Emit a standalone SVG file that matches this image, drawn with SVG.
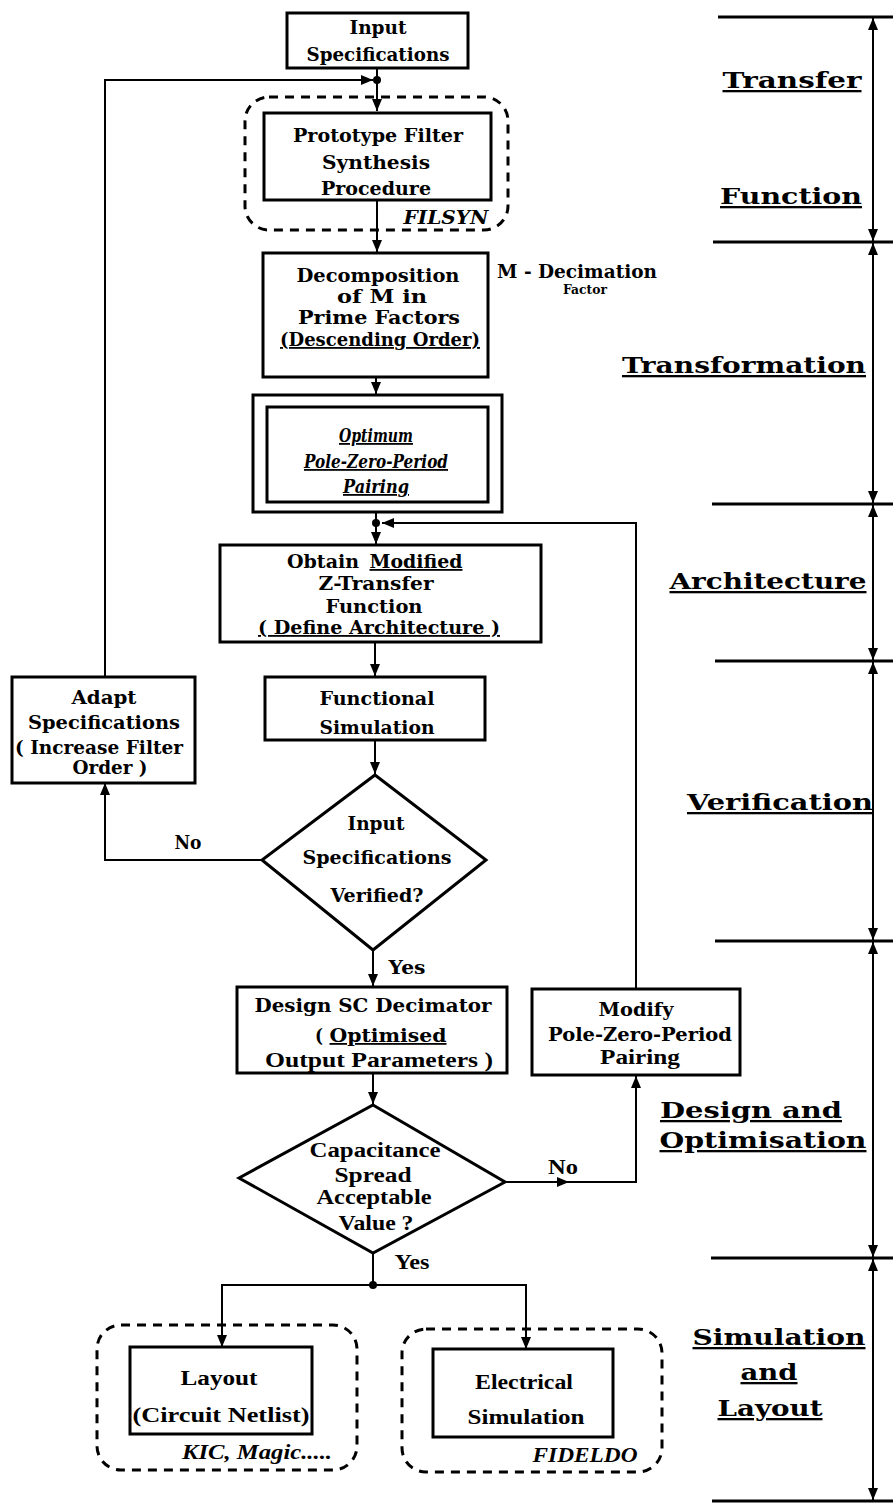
<svg xmlns="http://www.w3.org/2000/svg" width="893" height="1503" viewBox="0 0 893 1503">
<style>
.b{fill:none;stroke:#000;stroke-width:3}
.c{fill:none;stroke:#000;stroke-width:2}
.d{fill:none;stroke:#000;stroke-width:3;stroke-dasharray:9 7}
.t{font-family:"DejaVu Serif","Liberation Serif",serif;font-weight:bold;font-size:18px;text-anchor:middle;fill:#000}
.n{font-family:"Liberation Serif","DejaVu Serif",serif;font-size:20px}
.i{font-style:italic}
.u{text-decoration:underline}
.r{font-size:23px}
.sm{font-size:13px}
</style>
<defs>
<marker id="a" markerUnits="userSpaceOnUse" markerWidth="12" markerHeight="10" refX="12" refY="5" orient="auto-start-reverse"><path d="M0,0 L12,5 L0,10 z" fill="#000"/></marker>
</defs>
<rect width="893" height="1503" fill="#fff"/>

<g id="connectors">
<path class="c" d="M377,68 V111" marker-end="url(#a)"/>
<path class="c" d="M105,677 V80 H373" marker-end="url(#a)"/>
<path class="c" d="M377,200 V252" marker-end="url(#a)"/>
<path class="c" d="M376,377 V394" marker-end="url(#a)"/>
<path class="c" d="M376,512 V544" marker-end="url(#a)"/>
<path class="c" d="M636,989 V523 H382" marker-end="url(#a)"/>
<path class="c" d="M375,642 V676" marker-end="url(#a)"/>
<path class="c" d="M375,740 V774" marker-end="url(#a)"/>
<path class="c" d="M262,860 H105 V783" marker-end="url(#a)"/>
<path class="c" d="M373,950 V986" marker-end="url(#a)"/>
<path class="c" d="M373,1073 V1104" marker-end="url(#a)"/>
<path class="c" d="M505,1182 H569" marker-end="url(#a)"/>
<path class="c" d="M567,1182 H636 V1076" marker-end="url(#a)"/>
<path class="c" d="M373,1253 V1285"/>
<path class="c" d="M222,1347 V1285 H526 V1349" marker-start="url(#a)" marker-end="url(#a)"/>
<circle cx="377" cy="80" r="4"/>
<circle cx="376" cy="523" r="4"/>
<circle cx="373" cy="1285" r="4"/>
</g>

<g id="scale">
<path class="b" d="M718,17 H893 M713,242 H893 M712,504 H893 M715,661 H893 M715,941 H893 M711,1258 H893 M712,1501 H893"/>
<path class="c" d="M873,18 V241" marker-start="url(#a)" marker-end="url(#a)"/>
<path class="c" d="M873,243 V503" marker-start="url(#a)" marker-end="url(#a)"/>
<path class="c" d="M873,505 V660" marker-start="url(#a)" marker-end="url(#a)"/>
<path class="c" d="M873,662 V940" marker-start="url(#a)" marker-end="url(#a)"/>
<path class="c" d="M873,942 V1257" marker-start="url(#a)" marker-end="url(#a)"/>
<path class="c" d="M873,1259 V1500" marker-start="url(#a)" marker-end="url(#a)"/>
<text class="t r u" x="792" y="88" textLength="139" lengthAdjust="spacingAndGlyphs">Transfer</text>
<text class="t r u" x="791" y="204" textLength="142" lengthAdjust="spacingAndGlyphs">Function</text>
<text class="t r u" x="744" y="373" textLength="244" lengthAdjust="spacingAndGlyphs">Transformation</text>
<text class="t r u" x="768" y="589" textLength="197" lengthAdjust="spacingAndGlyphs">Architecture</text>
<text class="t r u" x="780" y="810" textLength="186" lengthAdjust="spacingAndGlyphs">Verification</text>
<text class="t r u" x="751" y="1118" textLength="182" lengthAdjust="spacingAndGlyphs">Design  and</text>
<text class="t r u" x="763" y="1148" textLength="207" lengthAdjust="spacingAndGlyphs">Optimisation</text>
<text class="t r u" x="779" y="1345" textLength="173" lengthAdjust="spacingAndGlyphs">Simulation</text>
<text class="t r u" x="769" y="1380" textLength="57" lengthAdjust="spacingAndGlyphs">and</text>
<text class="t r u" x="770" y="1416" textLength="105" lengthAdjust="spacingAndGlyphs">Layout</text>
</g>

<g id="input-spec">
<rect class="b" x="287" y="13" width="181" height="55"/>
<text class="t" x="378" y="34" textLength="57" lengthAdjust="spacingAndGlyphs">Input</text>
<text class="t" x="378" y="61" textLength="143" lengthAdjust="spacingAndGlyphs">Specifications</text>
</g>

<g id="filsyn">
<rect class="d" x="245" y="97" width="263" height="133" rx="24"/>
<rect class="b" x="264" y="113" width="227" height="87"/>
<text class="t" x="378" y="142" textLength="170" lengthAdjust="spacingAndGlyphs">Prototype Filter</text>
<text class="t" x="376" y="169" textLength="108" lengthAdjust="spacingAndGlyphs">Synthesis</text>
<text class="t" x="376" y="195" textLength="110" lengthAdjust="spacingAndGlyphs">Procedure</text>
<text class="t i" x="446" y="224" font-size="16" textLength="85" lengthAdjust="spacingAndGlyphs">FILSYN</text>
</g>

<g id="decomposition">
<rect class="b" x="263" y="253" width="225" height="124"/>
<text class="t" x="378" y="282" textLength="163" lengthAdjust="spacingAndGlyphs">Decomposition</text>
<text class="t" x="382" y="303" textLength="90" lengthAdjust="spacingAndGlyphs">of  M  in</text>
<text class="t" x="379" y="324" textLength="162" lengthAdjust="spacingAndGlyphs">Prime Factors</text>
<text class="t u" x="380" y="346" textLength="200" lengthAdjust="spacingAndGlyphs">(Descending Order)</text>
</g>

<g id="decimation-note">
<text class="t" x="577" y="278" font-size="16" textLength="160" lengthAdjust="spacingAndGlyphs">M -  Decimation</text>
<text class="t sm" x="585" y="294" textLength="44" lengthAdjust="spacingAndGlyphs">Factor</text>
</g>

<g id="optimum">
<rect class="b" x="253" y="395" width="249" height="117"/>
<rect class="b" x="267" y="407" width="221" height="95"/>
<text class="t i u" x="376" y="442" textLength="74" lengthAdjust="spacingAndGlyphs">Optimum</text>
<text class="t i u" x="376" y="468" textLength="144" lengthAdjust="spacingAndGlyphs">Pole-Zero-Period</text>
<text class="t i u" x="376" y="493" textLength="66" lengthAdjust="spacingAndGlyphs">Pairing</text>
</g>

<g id="obtain">
<rect class="b" x="220" y="545" width="321" height="97"/>
<text class="t" x="323" y="568" textLength="72" lengthAdjust="spacingAndGlyphs">Obtain</text>
<text class="t u" x="416" y="568" textLength="93" lengthAdjust="spacingAndGlyphs">Modified</text>
<text class="t" x="376" y="590" textLength="115" lengthAdjust="spacingAndGlyphs">Z-Transfer</text>
<text class="t" x="374" y="613" textLength="97" lengthAdjust="spacingAndGlyphs">Function</text>
<text class="t u" x="379" y="634" textLength="242" lengthAdjust="spacingAndGlyphs">( Define  Architecture )</text>
</g>

<g id="functional">
<rect class="b" x="265" y="677" width="220" height="63"/>
<text class="t" x="377" y="705" textLength="115" lengthAdjust="spacingAndGlyphs">Functional</text>
<text class="t" x="377" y="734" textLength="115" lengthAdjust="spacingAndGlyphs">Simulation</text>
</g>

<g id="adapt">
<rect class="b" x="12" y="677" width="183" height="106"/>
<text class="t" x="104" y="704" textLength="65" lengthAdjust="spacingAndGlyphs">Adapt</text>
<text class="t" x="104" y="729" textLength="152" lengthAdjust="spacingAndGlyphs">Specifications</text>
<text class="t" x="99" y="754" textLength="168" lengthAdjust="spacingAndGlyphs">( Increase Filter</text>
<text class="t" x="110" y="774" textLength="75" lengthAdjust="spacingAndGlyphs">Order )</text>
</g>

<g id="verify">
<path class="b" d="M375,775 L486,860 L373,950 L262,860 Z"/>
<text class="t" x="376" y="830" textLength="57" lengthAdjust="spacingAndGlyphs">Input</text>
<text class="t" x="377" y="864" textLength="149" lengthAdjust="spacingAndGlyphs">Specifications</text>
<text class="t" x="377" y="902" textLength="93" lengthAdjust="spacingAndGlyphs">Verified?</text>
<text class="t" x="188" y="849" textLength="27" lengthAdjust="spacingAndGlyphs">No</text>
<text class="t" x="407" y="974" textLength="37" lengthAdjust="spacingAndGlyphs">Yes</text>
</g>

<g id="design">
<rect class="b" x="237" y="987" width="270" height="86"/>
<text class="t" x="373" y="1012" textLength="237" lengthAdjust="spacingAndGlyphs">Design  SC  Decimator</text>
<text class="t" x="319" y="1042" textLength="8" lengthAdjust="spacingAndGlyphs">(</text>
<text class="t u" x="388" y="1042" textLength="117" lengthAdjust="spacingAndGlyphs">Optimised</text>
<text class="t n" x="379" y="1067" textLength="228" lengthAdjust="spacingAndGlyphs">Output  Parameters )</text>
</g>

<g id="modify">
<rect class="b" x="532" y="989" width="208" height="86"/>
<text class="t" x="636" y="1016" textLength="75" lengthAdjust="spacingAndGlyphs">Modify</text>
<text class="t" x="640" y="1041" textLength="184" lengthAdjust="spacingAndGlyphs">Pole-Zero-Period</text>
<text class="t n" x="640" y="1064" textLength="80" lengthAdjust="spacingAndGlyphs">Pairing</text>
</g>

<g id="capacitance">
<path class="b" d="M373,1105 L505,1182 L373,1253 L239,1178 Z"/>
<text class="t n" x="375" y="1157" textLength="131" lengthAdjust="spacingAndGlyphs">Capacitance</text>
<text class="t n" x="373" y="1182" textLength="77" lengthAdjust="spacingAndGlyphs">Spread</text>
<text class="t n" x="374" y="1204" textLength="115" lengthAdjust="spacingAndGlyphs">Acceptable</text>
<text class="t n" x="376" y="1230" textLength="75" lengthAdjust="spacingAndGlyphs">Value ?</text>
<text class="t n" x="563" y="1174" textLength="30" lengthAdjust="spacingAndGlyphs">No</text>
<text class="t n" x="412" y="1269" textLength="35" lengthAdjust="spacingAndGlyphs">Yes</text>
</g>

<g id="layout">
<rect class="d" x="97" y="1325" width="260" height="145" rx="24"/>
<rect class="b" x="130" y="1347" width="182" height="87"/>
<text class="t n" x="219" y="1385" textLength="77" lengthAdjust="spacingAndGlyphs">Layout</text>
<text class="t n" x="221" y="1422" textLength="177" lengthAdjust="spacingAndGlyphs">(Circuit  Netlist)</text>
<text class="t n i" x="257" y="1459" font-size="18" textLength="150" lengthAdjust="spacingAndGlyphs">KIC, Magic.....</text>
</g>

<g id="electrical">
<rect class="d" x="402" y="1329" width="260" height="143" rx="24"/>
<rect class="b" x="433" y="1349" width="180" height="88"/>
<text class="t n" x="524" y="1389" textLength="98" lengthAdjust="spacingAndGlyphs">Electrical</text>
<text class="t n" x="526" y="1424" textLength="117" lengthAdjust="spacingAndGlyphs">Simulation</text>
<text class="t n i" x="585" y="1462" font-size="18" textLength="105" lengthAdjust="spacingAndGlyphs">FIDELDO</text>
</g>
</svg>
